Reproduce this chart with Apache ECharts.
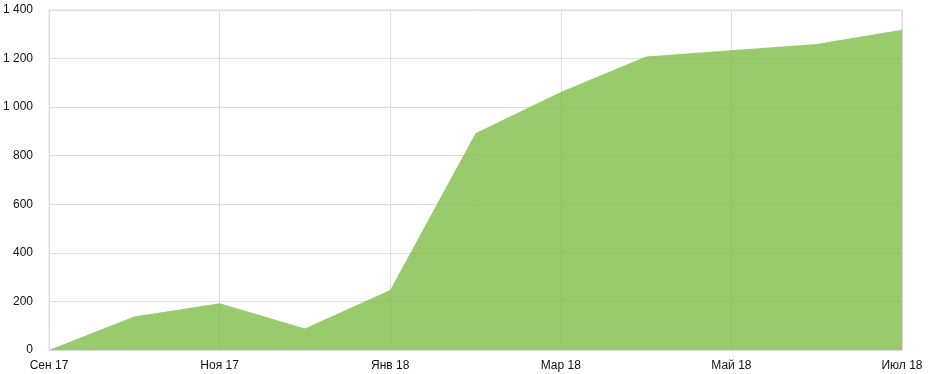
<!DOCTYPE html>
<html><head><meta charset="utf-8">
<script src="https://cdn.jsdelivr.net/npm/echarts@6/dist/echarts.min.js"></script>
<style>html,body{margin:0;padding:0;background:#fff}#c{width:928px;height:374px}</style>
</head><body><div id="c"></div>
<script>
const categories = ['Сен 17','Окт 17','Ноя 17','Дек 17','Янв 18','Фев 18','Мар 18','Апр 18','Май 18','Июн 18','Июл 18'];
const values = [0, 138, 193, 89, 247, 893, 1062, 1209, 1234, 1260, 1319];
const yTicks = { min: 0, max: 1400, interval: 200 };

const chart = echarts.init(document.getElementById('c'));
chart.setOption({
  animation: false,
  grid: { left: 48, right: 26, top: 10, bottom: 24, show: true, borderColor: '#dddddd', borderWidth: 1, containLabel: false },
  xAxis: {
    type: 'category', data: categories, boundaryGap: false,
    axisLine: { show: true, lineStyle: { color: '#dddddd' } },
    axisTick: { show: false },
    axisLabel: { interval: 1, color: '#111', fontFamily: 'Liberation Sans', fontSize: 12, margin: 10 },
    splitLine: { show: true, interval: 1, lineStyle: { color: '#dddddd' } }
  },
  yAxis: {
    type: 'value', min: yTicks.min, max: yTicks.max, interval: yTicks.interval,
    axisLine: { show: false }, axisTick: { show: false },
    axisLabel: { color: '#111', fontFamily: 'Liberation Sans', fontSize: 12, margin: 16,
      formatter: v => String(v).replace(/\B(?=(\d{3})+(?!\d))/g, ' ') },
    splitLine: { show: true, lineStyle: { color: '#dddddd' } }
  },
  series: [{
    type: 'line', data: values, symbol: 'none',
    lineStyle: { width: 0 },
    areaStyle: { color: '#80be47', opacity: 0.8 }
  }]
});
</script></body></html>
